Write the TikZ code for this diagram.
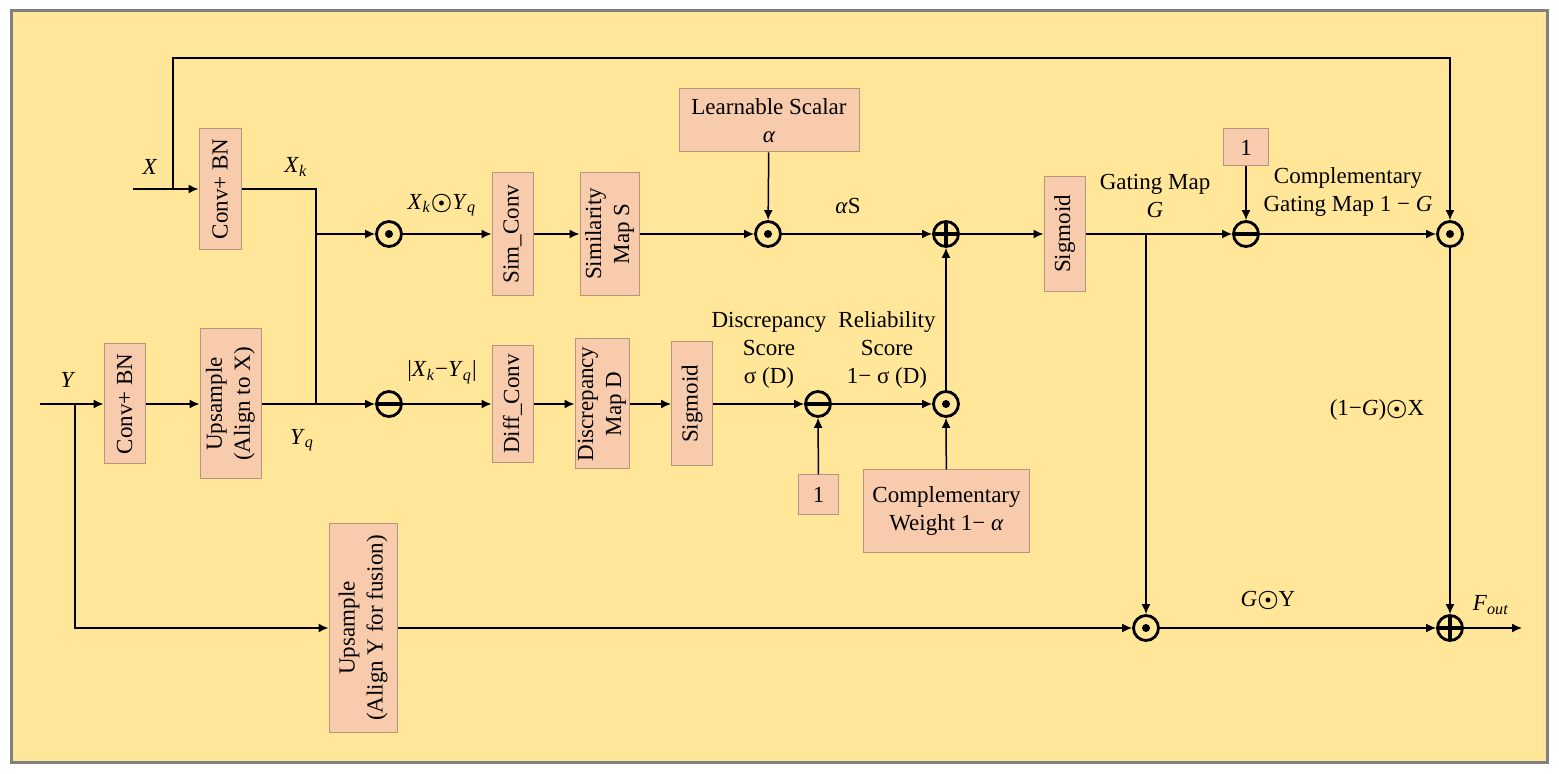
\documentclass[tikz,border=0pt]{standalone}
\usepackage{fontspec}
\usepackage{bm}
\setmainfont{Liberation Serif}
\usetikzlibrary{arrows.meta}

\definecolor{bgyellow}{HTML}{FFE699}
\definecolor{boxfill}{HTML}{F8CBAD}
\definecolor{boxline}{HTML}{B4967E}
\definecolor{framegray}{HTML}{808080}

\newcommand{\vsub}[2]{\textit{#1}\textsubscript{\textit{#2}}}
\newcommand{\hprod}{$\bm{\odot}$}

\tikzset{
  box/.style={draw=boxline, fill=boxfill, line width=0.5pt, inner sep=1pt, align=center},
  vbox/.style={box, rotate=90},
  opnode/.style={circle, draw, line width=1.4pt, minimum size=12.5pt, inner sep=0pt},
  odotc/.style={opnode, path picture={\fill (path picture bounding box.center) circle (2pt);}},
  opbar/.style={line width=1.4pt},
  arr/.style={-{Latex[length=5pt,width=4.5pt]}},
  lbl/.style={align=center, inner sep=0pt}
}

\begin{document}
\begin{tikzpicture}[x=0.5pt, y=-0.5pt, line width=0.75pt,
    font=\fontsize{11.5}{14}\selectfont]

  \useasboundingbox (0,0) rectangle (1559,774);
  \draw[framegray, fill=bgyellow, line width=1.5pt] (11,11) rectangle (1547,763);

  % Blocks
  \node[vbox, minimum width=60.5pt, minimum height=21pt]  (convx)    at (220,189)   {Conv+ BN};
  \node[vbox, minimum width=60pt,   minimum height=20.5pt] (convy)   at (124.5,404) {Conv+ BN};
  \node[vbox, minimum width=75pt,   minimum height=30.5pt] (upx)     at (230.5,404) {Upsample\\(Align to X)};
  \node[vbox, minimum width=104.5pt, minimum height=34pt]  (upy)     at (363,628)   {Upsample\\(Align Y for fusion)};
  \node[vbox, minimum width=61.5pt, minimum height=20.5pt] (simconv) at (512.5,234) {Sim\_Conv};
  \node[vbox, minimum width=61.5pt, minimum height=29.5pt] (simmap)  at (609.5,234) {Similarity\\Map S};
  \node[box,  minimum width=90pt,   minimum height=31.5pt] (learn)   at (769,120.5) {Learnable Scalar\\\textit{α}};
  \node[vbox, minimum width=58.5pt, minimum height=20.5pt] (diffconv) at (512.5,404) {Diff\_Conv};
  \node[vbox, minimum width=65pt,   minimum height=27pt]   (discmap) at (602,404)   {Discrepancy\\Map D};
  \node[vbox, minimum width=62pt,   minimum height=20.5pt] (sigmd)   at (692,404)   {Sigmoid};
  \node[box,  minimum width=20pt,   minimum height=20pt]   (oned)    at (818.5,495) {1};
  \node[box,  minimum width=83pt,   minimum height=41.5pt] (compw)   at (946.5,511.5) {Complementary\\Weight 1− \textit{α}};
  \node[vbox, minimum width=57.5pt, minimum height=20.5pt] (sigmg)   at (1064.5,234) {Sigmoid};
  \node[box,  minimum width=22.5pt, minimum height=18.5pt] (oneg)    at (1246,147.5) {1};

  % Operators
  \node[odotc]  (mulxy) at (389,234) {};
  \node[odotc]  (mula)  at (768,234) {};
  \node[opnode] (addsd) at (946,234) {};
  \node[opnode] (subg)  at (1246,234) {};
  \node[odotc]  (mulx)  at (1450,234) {};
  \node[opnode] (subxy) at (389,404) {};
  \node[opnode] (subd)  at (818,404) {};
  \node[odotc]  (mulw)  at (946,404) {};
  \node[odotc]  (muly)  at (1146,628) {};
  \node[opnode] (addout) at (1450,628) {};

  % bars of the plus and minus signs
  \foreach \op in {addsd,subg,subxy,subd,addout}
    \fill ([shift={(-6.5pt,-0.8pt)}]\op.center) rectangle ([shift={(6.5pt,0.8pt)}]\op.center);
  \foreach \op in {addsd,addout}
    \fill ([shift={(-0.8pt,-6.5pt)}]\op.center) rectangle ([shift={(0.8pt,6.5pt)}]\op.center);

  % Free ends and branch points
  \coordinate (xin)  at (133,189);
  \coordinate (xtap) at (173,189);
  \coordinate (xtop) at (173,58);
  \coordinate (xkb)  at (316,234);
  \coordinate (yq)   at (316,404);
  \coordinate (yin)  at (40,404);
  \coordinate (ytap) at (75,404);
  \coordinate (gtap) at (1146,234);
  \coordinate (fout) at (1522,628);

  % X path
  \draw[arr] (xin) -- (convx);
  \draw[arr] (xtap) -- (xtop) -| (mulx);
  \draw (convx) -| (yq);
  \draw[arr] (xkb) -- (mulxy);

  % Similarity branch
  \draw[arr] (mulxy) -- (simconv);
  \draw[arr] (simconv) -- (simmap);
  \draw[arr] (simmap) -- (mula);
  \draw[arr] (learn) -- (mula);
  \draw[arr] (mula) -- (addsd);
  \draw[arr] (addsd) -- (sigmg);
  \draw[arr] (sigmg) -- (subg);
  \draw[arr] (oneg) -- (subg);
  \draw[arr] (subg) -- (mulx);
  \draw[arr] (mulx) -- (addout);

  % Y path and discrepancy branch
  \draw[arr] (yin) -- (convy);
  \draw[arr] (convy) -- (upx);
  \draw[arr] (upx) -- (subxy);
  \draw[arr] (subxy) -- (diffconv);
  \draw[arr] (diffconv) -- (discmap);
  \draw[arr] (discmap) -- (sigmd);
  \draw[arr] (sigmd) -- (subd);
  \draw[arr] (oned) -- (subd);
  \draw[arr] (subd) -- (mulw);
  \draw[arr] (compw) -- (mulw);
  \draw[arr] (mulw) -- (addsd);

  % Fusion
  \draw[arr] (ytap) |- (upy);
  \draw[arr] (upy) -- (muly);
  \draw[arr] (gtap) -- (muly);
  \draw[arr] (muly) -- (addout);
  \draw[arr] (addout) -- (fout);

  % Labels
  \node[lbl] (lx)   at (150,167) {\textit{X}};
  \node[lbl] (lxk)  at (296,167) {\vsub{X}{k}};
  \node[lbl] (lxy)  at (442,205) {\vsub{X}{k}\hprod\vsub{Y}{q}};
  \node[lbl] (ldxy) at (442,372) {|\vsub{X}{k}−\vsub{Y}{q}|};
  \node[lbl] (ly)   at (68,380)  {\textit{Y}};
  \node[lbl] (lyq)  at (302,440) {\vsub{Y}{q}};
  \node[lbl] (las)  at (848,206) {\textit{α}S};
  \node[lbl] (lds)  at (769,350) {Discrepancy\\Score\\σ (D)};
  \node[lbl] (lrs)  at (887,350) {Reliability\\Score\\1− σ (D)};
  \node[lbl] (lg)   at (1155,196) {Gating Map\\\textit{G}};
  \node[lbl] (lcg)  at (1348,192) {Complementary\\Gating Map 1 − \textit{G}};
  \node[lbl] (lgx)  at (1377,410) {(1−\textit{G})\hprod X};
  \node[lbl] (lgy)  at (1268,600) {\textit{G}\hprod Y};
  \node[lbl] (lout) at (1491,605) {\vsub{F}{out}};

\end{tikzpicture}
\end{document}
